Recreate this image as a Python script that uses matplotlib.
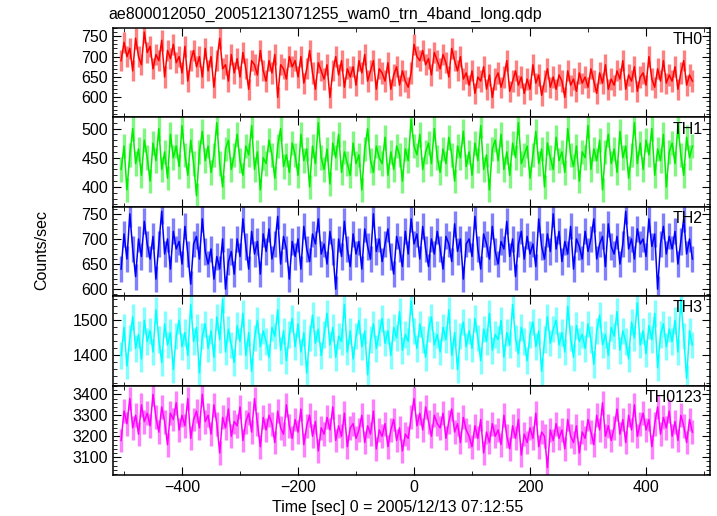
import numpy as np
import matplotlib
matplotlib.use('Agg')
import matplotlib.pyplot as plt
from matplotlib.ticker import MultipleLocator
from matplotlib.colors import to_rgb

plt.rcParams['font.family'] = ['Liberation Sans', 'DejaVu Sans']

# time bins (sec), 5 s wide
time = np.arange(-505, 481, 5)

th0 = [690, 735, 700, 720, 665, 745, 700, 680, 760, 710,
       725, 670, 705, 690, 740, 650, 715, 695, 730, 685,
       700, 660, 725, 640, 690, 715, 675, 700, 650, 720,
       665, 700, 625, 690, 745, 670, 680, 640, 705, 660,
       695, 650, 710, 670, 620, 690, 680, 655, 715, 665,
       640, 690, 660, 705, 600, 680, 670, 645, 700, 675,
       690, 650, 700, 635, 670, 715, 660, 620, 685, 665,
       645, 680, 600, 665, 700, 655, 690, 625, 670, 650,
       675, 630, 690, 660, 705, 640, 665, 690, 620, 670,
       660, 640, 685, 620, 655, 675, 630, 665, 640, 625,
       660, 730, 700, 690, 715, 680, 695, 655, 710, 690,
       670, 705, 685, 650, 720, 690, 665, 700, 645, 660,
       630, 665, 610, 650, 640, 675, 620, 655, 600, 645,
       660, 625, 650, 690, 615, 640, 665, 630, 650, 610,
       645, 620, 680, 635, 655, 605, 640, 670, 625, 650,
       620, 655, 640, 600, 665, 630, 645, 615, 660, 635,
       650, 625, 670, 640, 610, 660, 635, 680, 620, 645,
       630, 665, 645, 690, 620, 655, 640, 675, 615, 650,
       660, 630, 700, 645, 625, 670, 640, 690, 635, 655,
       640, 675, 620, 660, 690, 630, 655, 640]

th1 = [430, 470, 395, 455, 500, 440, 465, 420, 480, 450,
       410, 475, 445, 500, 430, 460, 415, 490, 450, 470,
       435, 505, 455, 420, 480, 440, 385, 460, 495, 445,
       470, 425, 455, 510, 440, 400, 465, 480, 430, 455,
       490, 445, 420, 470, 455, 505, 430, 460, 395, 450,
       440, 480, 455, 415, 470, 500, 435, 455, 425, 475,
       455, 420, 490, 445, 465, 400, 470, 440, 510, 450,
       430, 465, 405, 475, 450, 490, 425, 460, 440, 420,
       475, 440, 455, 395, 465, 500, 445, 425, 470, 450,
       440, 485, 420, 460, 430, 470, 455, 410, 465, 445,
       515, 470, 455, 490, 430, 460, 475, 440, 500, 450,
       425, 465, 440, 485, 455, 410, 470, 450, 495, 435,
       460, 420, 475, 445, 505, 430, 455, 395, 465, 480,
       445, 490, 430, 460, 420, 475, 450, 510, 440, 455,
       470, 415, 455, 495, 440, 465, 400, 475, 450, 430,
       485, 445, 460, 425, 500, 455, 435, 470, 410, 460,
       450, 505, 430, 465, 445, 480, 395, 460, 490, 440,
       465, 425, 495, 450, 470, 415, 455, 510, 440, 475,
       430, 480, 455, 500, 420, 465, 445, 490, 400, 460,
       475, 440, 505, 455, 420, 485, 450, 470]

th2 = [640, 710, 660, 750, 680, 625, 700, 665, 735, 690,
       660, 705, 620, 690, 755, 670, 700, 640, 715, 680,
       695, 650, 725, 670, 610, 690, 705, 660, 740, 675,
       650, 680, 620, 665, 640, 700, 600, 655, 675, 630,
       700, 665, 740, 685, 640, 715, 670, 695, 630, 710,
       675, 720, 660, 690, 745, 650, 705, 680, 620, 695,
       665, 700, 640, 725, 680, 655, 710, 690, 740, 670,
       690, 650, 715, 675, 600, 700, 665, 735, 680, 645,
       710, 670, 695, 640, 720, 685, 660, 750, 675, 700,
       655, 690, 720, 665, 630, 705, 680, 645, 715, 670,
       740, 690, 710, 660, 725, 680, 645, 700, 670, 715,
       680, 640, 705, 690, 655, 730, 675, 700, 620, 690,
       700, 665, 745, 680, 640, 710, 690, 660, 725, 675,
       650, 695, 680, 735, 665, 700, 625, 690, 715, 660,
       705, 670, 690, 645, 740, 685, 660, 710, 675, 750,
       680, 715, 655, 695, 670, 725, 640, 700, 685, 660,
       715, 675, 700, 740, 660, 690, 705, 645, 730, 685,
       670, 705, 650, 690, 755, 680, 700, 660, 720, 690,
       700, 665, 740, 685, 710, 600, 690, 725, 670, 705,
       680, 715, 650, 695, 740, 670, 700, 660]

th3 = [1400, 1480, 1370, 1450, 1510, 1420, 1460, 1390, 1500, 1440,
       1470, 1410, 1530, 1445, 1380, 1490, 1430, 1465, 1360, 1455,
       1500, 1425, 1465, 1400, 1545, 1440, 1480, 1350, 1455, 1490,
       1420, 1470, 1395, 1510, 1445, 1560, 1410, 1475, 1430, 1380,
       1485, 1440, 1520, 1400, 1465, 1355, 1450, 1500, 1425, 1470,
       1440, 1395, 1480, 1455, 1530, 1415, 1470, 1385, 1460, 1505,
       1425, 1490, 1410, 1465, 1350, 1450, 1515, 1435, 1475, 1400,
       1460, 1520, 1430, 1480, 1395, 1455, 1440, 1545, 1410, 1470,
       1390, 1455, 1500, 1425, 1470, 1345, 1445, 1490, 1420, 1465,
       1505, 1435, 1470, 1400, 1480, 1450, 1525, 1415, 1460, 1440,
       1555, 1470, 1420, 1490, 1445, 1395, 1475, 1510, 1430, 1460,
       1410, 1480, 1445, 1530, 1400, 1465, 1360, 1455, 1495, 1425,
       1470, 1420, 1505, 1450, 1385, 1475, 1440, 1520, 1415, 1460,
       1445, 1500, 1395, 1465, 1430, 1545, 1450, 1405, 1480, 1440,
       1385, 1460, 1495, 1425, 1470, 1355, 1445, 1510, 1435, 1475,
       1500, 1430, 1465, 1410, 1540, 1450, 1395, 1485, 1440, 1460,
       1420, 1490, 1445, 1375, 1470, 1515, 1430, 1460, 1400, 1480,
       1455, 1525, 1415, 1470, 1440, 1390, 1495, 1450, 1550, 1430,
       1470, 1405, 1485, 1445, 1520, 1365, 1460, 1490, 1425, 1475,
       1440, 1500, 1410, 1560, 1455, 1335, 1470, 1430]

th0123 = [3180, 3320, 3260, 3380, 3240, 3300, 3210, 3350, 3270, 3310,
          3250, 3400, 3290, 3220, 3340, 3270, 3160, 3310, 3280, 3360,
          3230, 3300, 3250, 3380, 3190, 3280, 3320, 3240, 3400, 3270,
          3300, 3210, 3350, 3260, 3120, 3290, 3240, 3330, 3200, 3270,
          3250, 3340, 3180, 3270, 3310, 3220, 3380, 3260, 3150, 3290,
          3230, 3300, 3260, 3170, 3320, 3240, 3210, 3350, 3250, 3190,
          3280, 3220, 3330, 3160, 3250, 3300, 3200, 3270, 3130, 3240,
          3210, 3290, 3230, 3340, 3180, 3250, 3200, 3310, 3150, 3240,
          3260, 3190, 3230, 3300, 3170, 3250, 3210, 3320, 3140, 3230,
          3200, 3260, 3150, 3230, 3280, 3180, 3240, 3130, 3210, 3190,
          3290, 3380, 3250, 3310, 3230, 3340, 3270, 3200, 3300, 3260,
          3240, 3310, 3190, 3270, 3330, 3220, 3260, 3170, 3290, 3230,
          3200, 3150, 3250, 3190, 3280, 3120, 3220, 3170, 3260, 3200,
          3230, 3160, 3300, 3200, 3140, 3250, 3190, 3280, 3110, 3210,
          3170, 3240, 3190, 3310, 3150, 3220, 3200, 3050, 3230, 3180,
          3260, 3190, 3230, 3140, 3280, 3200, 3170, 3250, 3120, 3220,
          3190, 3280, 3220, 3160, 3300, 3230, 3360, 3200, 3250, 3180,
          3240, 3330, 3210, 3280, 3170, 3300, 3230, 3350, 3200, 3260,
          3310, 3230, 3280, 3150, 3260, 3340, 3210, 3290, 3240, 3320,
          3200, 3270, 3180, 3300, 3250, 3170, 3280, 3220]

# typical 1-sigma error per band (counts/sec)
errors = [26, 21, 26, 38, 57]

series = [th0, th1, th2, th3, th0123]
names = ['TH0', 'TH1', 'TH2', 'TH3', 'TH0123']
colors = ['#ff0000', '#00ee00', '#0000ff', '#00ffff', '#ff00ff']
ylims = [(551, 770), (366, 519), (586, 764), (1314, 1569), (3015, 3442)]
yticks = [[600, 650, 700, 750], [400, 450, 500], [600, 650, 700, 750],
          [1400, 1500], [3100, 3200, 3300, 3400]]
yminor = [10, 10, 10, 20, 20]

fig, axes = plt.subplots(5, 1, sharex=True, figsize=(7.17, 5.16), dpi=100)
fig.subplots_adjust(left=0.1576, right=0.990, top=0.9457, bottom=0.0795, hspace=0)

for ax, y, err, name, c, yl, yt, ym in zip(axes, series, errors, names, colors, ylims, yticks, yminor):
    light = tuple(0.5 * np.array(to_rgb(c)) + 0.5)
    ax.errorbar(time, y, yerr=err, fmt='none', ecolor=light, elinewidth=2.4)
    ax.plot(time, y, color=c, lw=1.1)
    ax.set_ylim(yl)
    ax.set_yticks(yt)
    ax.yaxis.set_minor_locator(MultipleLocator(ym))
    ax.set_xlim(-519, 510)
    ax.xaxis.set_major_locator(MultipleLocator(200))
    ax.xaxis.set_minor_locator(MultipleLocator(100))
    ax.tick_params(which='both', direction='in', top=True, right=True, labelsize=11.5)
    ax.tick_params(which='major', length=6)
    ax.tick_params(which='minor', length=3)
    for s in ax.spines.values():
        s.set_linewidth(1.1)
    ax.text(0.988, 0.87, name, transform=ax.transAxes, ha='right', va='center', fontsize=11.5)

fig.text(0.151, 0.973, 'ae800012050_20051213071255_wam0_trn_4band_long.qdp',
         ha='left', va='center', fontsize=11.5)
fig.text(0.058, 0.515, 'Counts/sec', rotation=90, ha='center', va='center', fontsize=11.5)
fig.text(0.555, 0.017, 'Time [sec] 0 = 2005/12/13 07:12:55', ha='center', va='center', fontsize=11.5)

plt.savefig('out.png')
